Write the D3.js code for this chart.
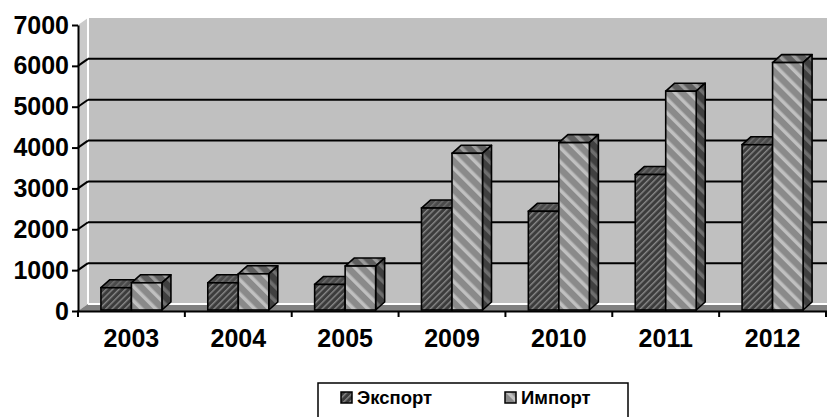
<!DOCTYPE html>
<html><head><meta charset="utf-8">
<script src="https://cdn.jsdelivr.net/npm/d3@7/dist/d3.min.js"></script>
<style>body{margin:0;background:#fff}svg{display:block}text{font-family:"Liberation Sans",Arial,sans-serif;font-weight:bold}</style>
</head><body>
<svg id="chart" width="827" height="417"></svg>
<script>
const categories = ["2003","2004","2005","2009","2010","2011","2012"];
const exportValues = [570, 690, 650, 2520, 2440, 3340, 4070];
const importValues = [690, 910, 1100, 3860, 4120, 5380, 6080];
const yTicks = [0,1000,2000,3000,4000,5000,6000,7000];
const seriesNames = ["Экспорт","Импорт"];

const svg = d3.select("#chart");
const x = d3.scaleBand().domain(categories).range([78, 826]);
const y = d3.scaleLinear().domain([0, 7000]).range([311, 25]);
const wdx = 10, wdy = -7;   // wall depth
const bdx = 9, bdy = -8;    // bar depth
const barW = 30.5;
const xEnd = x.range()[1];

// patterns
const defs = svg.append("defs");
function pat(id, size, angle, bg, fg, sw){
  const p = defs.append("pattern").attr("id", id).attr("patternUnits","userSpaceOnUse")
    .attr("width", size).attr("height", size).attr("patternTransform", `rotate(${angle})`);
  p.append("rect").attr("width", size).attr("height", size).attr("fill", bg);
  p.append("rect").attr("x",0).attr("y",0).attr("width", sw).attr("height", size).attr("fill", fg);
}
pat("expFront", 4.5, 45, "#3c3c3c", "#878787", 1.4);
pat("expTop", 4.5, 45, "#4a4a4a", "#6e6e6e", 1.4);
pat("expSide", 4.5, 45, "#333", "#5a5a5a", 1.4);
pat("impFront", 10, -45, "#8a8a8a", "#c0c0c0", 3.5);
pat("impTop", 10, -45, "#5e5e5e", "#9a9a9a", 3.5);
pat("impSide", 10, -45, "#404040", "#6e6e6e", 3.5);

// back wall
const wallTop = y(7000) + wdy;
const floorY = y(0) + wdy;
svg.append("rect").attr("x", 78 + wdx).attr("y", wallTop).attr("width", 900).attr("height", floorY - wallTop).attr("fill", "#c0c0c0");
// left side wall
svg.append("polygon").attr("points", [[78, y(7000)],[78+wdx, wallTop],[78+wdx, floorY],[78, y(0)]].join(" ")).attr("fill", "#cacaca");
// floor
svg.append("polygon").attr("points", [[78, y(0)],[78+wdx, floorY],[xEnd+wdx+20, floorY],[xEnd+20, y(0)]].join(" ")).attr("fill", "#808080");
svg.append("line").attr("x1", 78+wdx).attr("x2", 900).attr("y1", floorY).attr("y2", floorY).attr("stroke", "#fff").attr("stroke-width", 2);
svg.append("line").attr("x1", 78+wdx).attr("x2", 78+wdx).attr("y1", wallTop).attr("y2", floorY).attr("stroke", "#fff").attr("stroke-width", 2);

// gridlines + diagonals
yTicks.filter(v => v > 0 && v < 7000).forEach(v => {
  svg.append("line").attr("x1", 78+wdx).attr("x2", 900).attr("y1", y(v)+wdy).attr("y2", y(v)+wdy).attr("stroke", "#000").attr("stroke-width", 2);
  svg.append("line").attr("x1", 78).attr("x2", 78+wdx).attr("y1", y(v)).attr("y2", y(v)+wdy).attr("stroke", "#000").attr("stroke-width", 2);
});

// bars
function bar3d(g, x0, v, front, top, side){
  const yt = y(v), yb = y(0) - 1, x1 = x0 + barW;
  g.append("polygon").attr("points", [[x0,yt],[x0+bdx,yt+bdy],[x1+bdx,yt+bdy],[x1,yt]].join(" "))
    .attr("fill", `url(#${top})`).attr("stroke","#000").attr("stroke-width",1.6).attr("stroke-linejoin","round");
  g.append("polygon").attr("points", [[x1,yt],[x1+bdx,yt+bdy],[x1+bdx,yb+bdy],[x1,yb]].join(" "))
    .attr("fill", `url(#${side})`).attr("stroke","#000").attr("stroke-width",1.6).attr("stroke-linejoin","round");
  g.append("rect").attr("x", x0).attr("y", yt).attr("width", barW).attr("height", yb - yt)
    .attr("fill", `url(#${front})`).attr("stroke","#000").attr("stroke-width",1.6);
}
const bars = svg.append("g");
categories.forEach((c, i) => {
  const cx = x(c) + x.bandwidth()/2;
  bar3d(bars, cx - barW, exportValues[i], "expFront", "expTop", "expSide");
  bar3d(bars, cx, importValues[i], "impFront", "impTop", "impSide");
});

// y axis
const yAxis = svg.append("g").attr("transform", "translate(78,0)")
  .call(d3.axisLeft(y).tickValues(yTicks).tickFormat(d3.format("d")).tickSize(6).tickSizeOuter(0).tickPadding(3));
yAxis.select(".domain").attr("stroke", "#000").attr("stroke-width", 2);
yAxis.selectAll(".tick line").attr("stroke", "#000").attr("stroke-width", 2);
yAxis.selectAll("text").attr("font-size", 25).attr("fill", "#000").style("font-weight","bold");

// x axis
svg.append("line").attr("x1", 77).attr("x2", 827).attr("y1", y(0)+0.5).attr("y2", y(0)+0.5).attr("stroke", "#000").attr("stroke-width", 2);
categories.map(c => x(c)).concat([xEnd]).forEach(px => {
  svg.append("line").attr("x1", px).attr("x2", px).attr("y1", y(0)).attr("y2", y(0)+6).attr("stroke", "#000").attr("stroke-width", 2);
});
const xAxis = svg.append("g").attr("transform", `translate(0,${y(0)})`)
  .call(d3.axisBottom(x).tickSizeInner(0).tickSizeOuter(0).tickPadding(18));
xAxis.select(".domain").remove();
xAxis.selectAll("text").attr("font-size", 25).attr("fill", "#000").style("font-weight","bold");

// legend
const leg = svg.append("g");
leg.append("rect").attr("x", 318).attr("y", 383).attr("width", 310).attr("height", 45).attr("fill", "#fff").attr("stroke", "#000").attr("stroke-width", 1.5);
const legItems = [{name: seriesNames[0], fill: "expFront", x: 341}, {name: seriesNames[1], fill: "impFront", x: 505}];
legItems.forEach(d => {
  leg.append("rect").attr("x", d.x).attr("y", 392).attr("width", 11).attr("height", 11).attr("fill", `url(#${d.fill})`).attr("stroke", "#000").attr("stroke-width", 1.5);
  leg.append("text").attr("x", d.x + 16).attr("y", 404).attr("font-size", 18.5).attr("fill", "#000").text(d.name);
});
</script>
</body></html>
